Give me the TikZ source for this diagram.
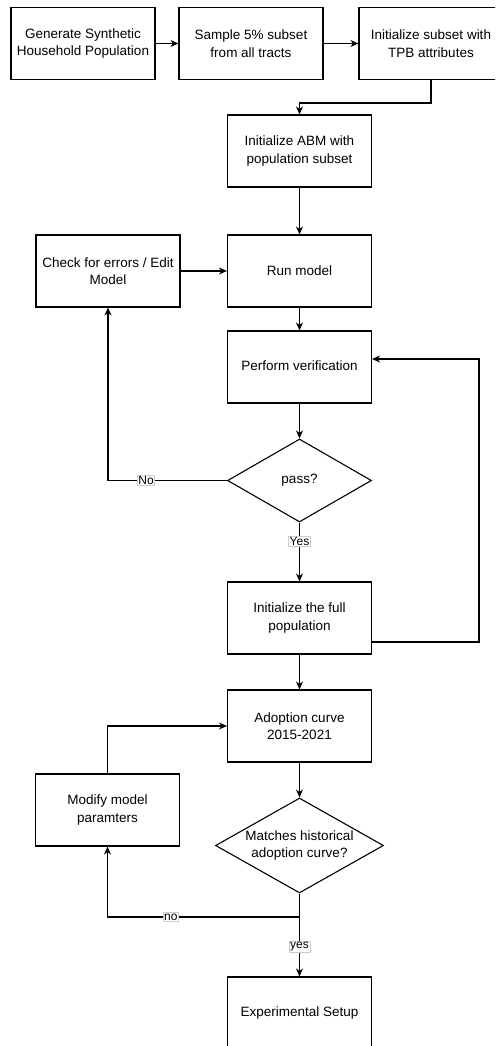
\documentclass[tikz,border=0pt]{standalone}
\usepackage{fontspec}
\setmainfont{Liberation Sans}
\usetikzlibrary{arrows.meta,shapes.geometric}
\begin{document}
\begin{tikzpicture}[x=1pt,y=-1pt,
  box/.style={draw,line width=1.1pt,rectangle,minimum width=144pt,minimum height=72pt,inner sep=0.5pt,align=center,font=\fontsize{13.5}{17.5}\selectfont},
  dec/.style={draw,line width=1.1pt,diamond,inner sep=0pt},
  txt/.style={align=center,font=\fontsize{13.5}{17.5}\selectfont,inner sep=0pt},
  arr/.style={line width=1.1pt,-{Stealth[length=8pt,width=7pt,inset=2.5pt]}},
  ln/.style={line width=1.1pt},
  lbl/.style={draw=black!20,line width=0.5pt,fill=white,inner sep=1pt,font=\fontsize{12}{14}\selectfont}]
\clip (0,0) rectangle (495,1046);
\fill[white] (0,0) rectangle (495,1046);
\node[box] (b1) at (83,43.5) {Generate Synthetic\\Household Population};
\node[box] (b2) at (251,43.5) {Sample 5\% subset\\from all tracts};
\node[box] (b3) at (431,43.5) {Initialize subset with\\TPB attributes};
\node[box] (abm) at (299.5,151) {Initialize ABM with\\population subset};
\node[box] (run) at (299.5,271) {Run model};
\node[box] (chk) at (108,271) {Check for errors / Edit\\Model};
\node[box] (ver) at (299.5,367) {};
\node[txt] at (299.5,366) {Perform verification};
\node[dec,minimum width=144pt,minimum height=83pt] (pass) at (299.5,480.5) {};
\node[txt] at (pass) {pass?};
\node[box] (full) at (299.5,618) {Initialize the full\\population};
\node[box] (adopt) at (299.5,726) {Adoption curve\\2015-2021};
\node[box] (mod) at (107.5,810) {Modify model\\paramters};
\node[dec,minimum width=168pt,minimum height=95pt] (match) at (299.5,845.5) {};
\node[txt] at (match) {Matches historical\\adoption curve?};
\node[box] (exp) at (299.5,1013) {Experimental Setup};
\coordinate (j1) at (299.5,103);
\coordinate (r1) at (479,359);
\coordinate (split) at (299.5,917);
\draw[arr] (b1.east) -- (b2.west);
\draw[arr] (b2.east) -- (b3.west);
\draw[arr] (b3.south) |- (j1) -- (abm.north);
\draw[arr] (abm.south) -- (run.north);
\draw[arr] (chk.east) -- (run.west);
\draw[arr] (run.south) -- (ver.north);
\draw[arr] (ver.south) -- (pass.north);
\draw[arr] (pass.west) -- node[lbl,pos=0.68]{No} (chk.south |- pass.west) -- (chk.south);
\draw[arr] (pass.south) -- node[lbl,pos=0.32]{Yes} (full.north);
\draw[arr] ([yshift=-24pt]full.east) -| (r1) -- ([yshift=8pt]ver.east);
\draw[arr] (full.south) -- (adopt.north);
\draw[arr] (adopt.south) -- (match.north);
\draw[ln] (match.south) -- (split);
\draw[arr] (split) -- node[lbl,pos=0.67]{no} (mod.south |- split) -- (mod.south);
\draw[arr] (split) -- node[lbl,pos=0.5]{yes} (exp.north);
\draw[arr] (mod.north) |- (adopt.west);
\end{tikzpicture}
\end{document}
